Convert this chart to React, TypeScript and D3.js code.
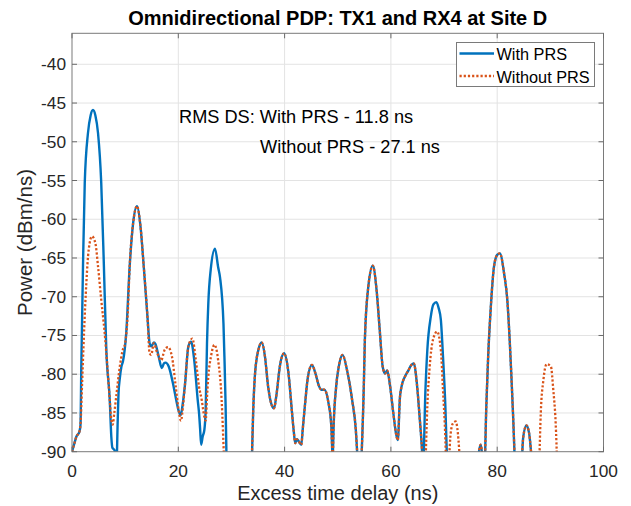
import React from "react";
import * as d3 from "d3";

type Pt = [number, number] | null;

// ---- Data (excess delay in ns, power in dBm/ns); null = below -90 dBm floor gap ----
const onsetShared: Pt[] = [[0, -90], [0.5, -88.8], [0.8, -88.1], [1.4, -87.4], [1.6, -86.5]];

const withPRSEarly: Pt[] = [
  [1.75, -79], [2.07, -66], [2.4, -55.3], [3.0, -48.9], [3.5, -46.6], [3.95, -45.9], [4.4, -46.6],
  [4.9, -48.9], [5.5, -55.3], [6.0, -66], [6.46, -76.9], [7.1, -83.3], [7.4, -88.1], [7.6, -89.5],
  [8.0, -89.8], [8.35, -92], [8.6, -86], [8.75, -82.5], [9.0, -80.5], [9.3, -79], [9.6, -78.3],
  [10.2, -74.7], [10.85, -66.1], [11.5, -60.5], [12.23, -58.3], [12.9, -61], [13.5, -66.1],
  [14.2, -72.6], [14.6, -76], [14.9, -76.4], [15.4, -75.9], [15.7, -76.1], [16.3, -77.7],
  [16.9, -79.2], [17.3, -78.6], [17.6, -78.5], [18.2, -79], [19.0, -81.2], [19.6, -83.3],
  [20.1, -84.8], [20.45, -85.3], [20.8, -84], [21.26, -81.3], [21.9, -76.4], [22.4, -75.8],
  [23.0, -78.2], [23.65, -83.3], [23.9, -85], [24.1, -87], [24.3, -89.1], [24.6, -88], [24.9, -87.2],
  [25.15, -84.6], [25.4, -76], [25.65, -70.8], [26.1, -66.5], [26.9, -63.8], [27.5, -66.2],
  [27.85, -67.5], [28.5, -73.5], [28.7, -78.3], [28.9, -84], [29.1, -92], null,
];

const withoutPRSEarly: Pt[] = [
  [1.9, -81.2], [2.26, -74.7], [2.7, -68.2], [3.13, -64], [3.76, -62.2], [4.4, -63.1], [4.9, -66.1],
  [5.5, -70.4], [6.15, -74.7], [6.65, -79], [7.1, -83.3], [7.4, -85.9], [7.65, -86.5], [7.96, -85],
  [8.3, -83], [9.0, -79], [9.5, -77], [10.0, -76], [10.5, -72], [10.85, -66.1], [11.5, -60.5],
  [12.23, -58.3], [12.9, -61], [13.5, -66.1], [14.2, -72.6], [14.6, -77.3], [14.9, -77.5],
  [15.4, -76], [16.05, -77.3], [16.8, -78.2], [17.4, -76.9], [18.06, -76.5], [18.8, -77.7],
  [19.45, -81.2], [20.1, -84.8], [20.5, -86], [20.9, -84], [21.26, -81.3], [21.9, -76.4],
  [22.65, -75.4], [23.3, -78.2], [23.9, -81.6], [24.4, -83.3], [24.9, -85.5], [25.15, -86],
  [25.4, -83], [25.65, -80.3], [26.15, -77.7], [26.8, -76.2], [27.5, -78.2], [28.15, -83.3],
  [28.65, -92], null,
];

const midShared: Pt[] = [
  [33.8, -92], [34.1, -84.6], [34.4, -80.3], [35.05, -76.9], [35.7, -75.9], [36.3, -77.7],
  [36.9, -81.6], [37.7, -84.2], [38.0, -84.4], [38.5, -82.5], [39.1, -79], [39.9, -77.3],
  [40.7, -79.7], [41.4, -85], [41.7, -87.2], [42.0, -88.9], [42.3, -88.4], [42.6, -88.6],
  [43.15, -89.1], [43.4, -87.2], [43.8, -84.2], [44.4, -80.3], [45.15, -78.8], [45.8, -79.9],
  [46.4, -81.4], [46.9, -82], [47.5, -82], [48.2, -83.5], [48.8, -86.8], [49.05, -91],
  [49.2, -87.2], [49.7, -81.6], [50.2, -79], [50.9, -77.5], [51.75, -79.5], [52.7, -83.3],
  [53.4, -87.2], [53.8, -92], null,
  [54.4, -92], [54.9, -81.6], [55.1, -75.6], [55.75, -68.7], [56.6, -66], [57.3, -69.1],
  [57.9, -74.3], [58.45, -79], [58.9, -79.9], [59.3, -79.5], [59.8, -81.3], [60.45, -85],
  [61.0, -87.8], [61.3, -88.5], [61.7, -83], [62.0, -81.6], [62.65, -80.3], [63.3, -79.5],
  [63.85, -78.8], [64.3, -78.6], [64.9, -81.3], [65.4, -85.5], [65.85, -89.8], [66.0, -92],
];

const withPRSPeak68: Pt[] = [
  [66.05, -92], [66.5, -82], [66.85, -76.9], [67.5, -72.6], [68.0, -71.0], [68.55, -70.7],
  [69.0, -71.5], [69.4, -73], [69.8, -77.7], [70.25, -84.2], [70.6, -92], null,
];

const withoutPRSPeak68: Pt[] = [
  null, [66.5, -92], [66.85, -84.2], [67.3, -79], [67.9, -75.6], [68.7, -74.5], [69.4, -76.9],
  [69.8, -82], [70.25, -88.5], [70.4, -92], null,
  [70.9, -92], [71.25, -87.6], [71.7, -86.3], [72.2, -86.1], [72.6, -87.6], [73.05, -92], null,
];

const lateShared: Pt[] = [
  [76.25, -92], [76.9, -89.1], [77.5, -92], [77.6, -92], [77.95, -84.2], [78.3, -77.7],
  [78.8, -71.3], [79.4, -66.1], [80.0, -64.6], [80.5, -64.4], [81.3, -67], [81.9, -70.4],
  [82.35, -75.6], [82.7, -80.7], [83.0, -85.5], [83.35, -92], null,
  [84.6, -92], [84.9, -88.1], [85.5, -86.6], [86.0, -87.6], [86.6, -92], null,
];

const withoutPRSTail: Pt[] = [
  [87.9, -92], [88.2, -85], [88.7, -80.7], [89.3, -78.7], [90.1, -79], [90.55, -82],
  [91.0, -86.3], [91.3, -92], null,
];

const withPRS: Pt[] = [...onsetShared, ...withPRSEarly, ...midShared, ...withPRSPeak68, ...lateShared];
const withoutPRS: Pt[] = [
  ...onsetShared, ...withoutPRSEarly, ...midShared, ...withoutPRSPeak68, ...lateShared, ...withoutPRSTail,
];

const xTicks = [0, 20, 40, 60, 80, 100];
const yTicks = [-90, -85, -80, -75, -70, -65, -60, -55, -50, -45, -40];
const legendLabels = ["With PRS", "Without PRS"];
const titleText = "Omnidirectional PDP: TX1 and RX4 at Site D";
const annotation1 = "RMS DS: With PRS - 11.8 ns";
const annotation2 = "Without PRS - 27.1 ns";

// ---- Layout ----
const W = 631;
const H = 506;
const L = 72;
const R = 603.5;
const T = 33.3;
const B = 451.7;
const FONT = "'Liberation Sans', Arial, Helvetica, sans-serif";
const BLUE = "#0072BD";
const ORANGE = "#D95319";
const AX = "#262626";

export default function App() {
  const x = d3.scaleLinear().domain([0, 100]).range([L, R]);
  const y = d3.scaleLinear().domain([-90, -36]).range([B, T]);
  const line = d3
    .line<Pt>()
    .defined((d) => d !== null)
    .x((d) => x((d as [number, number])[0]))
    .y((d) => y((d as [number, number])[1]))
    .curve(d3.curveMonotoneX);

  const tick = 5;
  return (
    <svg width={W} height={H} style={{ position: "absolute", left: 0, top: 0, background: "#fff" }}>
      <defs>
        <clipPath id="plotClip">
          <rect x={L} y={T} width={R - L} height={B - T} />
        </clipPath>
      </defs>
      <rect x={0} y={0} width={W} height={H} fill="#fff" />
      {/* grid */}
      <g stroke="#e3e3e3" strokeWidth={1}>
        {xTicks.slice(1, -1).map((t) => (
          <line key={"gx" + t} x1={x(t)} x2={x(t)} y1={T} y2={B} />
        ))}
        {yTicks.slice(1).map((t) => (
          <line key={"gy" + t} x1={L} x2={R} y1={y(t)} y2={y(t)} />
        ))}
      </g>
      {/* curves */}
      <g clipPath="url(#plotClip)" fill="none">
        <path d={line(withPRS) || ""} stroke={BLUE} strokeWidth={2.4} strokeLinejoin="round" />
        <path d={line(withoutPRS) || ""} stroke={ORANGE} strokeWidth={2.3} strokeDasharray="2.2 2" />
      </g>
      {/* axes box and ticks */}
      <rect x={L} y={T} width={R - L} height={B - T} fill="none" stroke="#7a7a7a" strokeWidth={1} />
      <g stroke="#6a6a6a" strokeWidth={1}>
        {xTicks.map((t) => (
          <g key={"tx" + t}>
            <line x1={x(t)} x2={x(t)} y1={B} y2={B - tick} />
            <line x1={x(t)} x2={x(t)} y1={T} y2={T + tick} />
          </g>
        ))}
        {yTicks.map((t) => (
          <g key={"ty" + t}>
            <line x1={L} x2={L + tick} y1={y(t)} y2={y(t)} />
            <line x1={R} x2={R - tick} y1={y(t)} y2={y(t)} />
          </g>
        ))}
      </g>
      {/* tick labels */}
      <g fontFamily={FONT} fontSize={17.3} fill={AX}>
        {xTicks.map((t) => (
          <text key={"lx" + t} x={x(t)} y={477} textAnchor="middle">
            {t}
          </text>
        ))}
        {yTicks.map((t) => (
          <text key={"ly" + t} x={66} y={y(t) + 6} textAnchor="end">
            {t}
          </text>
        ))}
      </g>
      {/* labels */}
      <text x={(L + R) / 2} y={500} textAnchor="middle" fontFamily={FONT} fontSize={20} fill={AX}>
        Excess time delay (ns)
      </text>
      <text
        transform={`translate(32,${(T + B) / 2}) rotate(-90)`}
        textAnchor="middle"
        fontFamily={FONT}
        fontSize={20.5}
        fill={AX}
      >
        Power (dBm/ns)
      </text>
      <text x={(L + R) / 2} y={25} textAnchor="middle" fontFamily={FONT} fontSize={20} fontWeight="bold" fill="#000">
        {titleText}
      </text>
      {/* annotations */}
      <text x={179} y={123} fontFamily={FONT} fontSize={18.2} fill="#000">
        {annotation1}
      </text>
      <text x={260} y={152.5} fontFamily={FONT} fontSize={18.2} fill="#000">
        {annotation2}
      </text>
      {/* legend */}
      <rect x={456.5} y={42.5} width={138} height={44} fill="#fff" stroke="#7a7a7a" strokeWidth={1} />
      <line x1={459.5} x2={494} y1={53.5} y2={53.5} stroke={BLUE} strokeWidth={2.4} />
      <line x1={459.5} x2={494} y1={76} y2={76} stroke={ORANGE} strokeWidth={2.3} strokeDasharray="2.2 2" />
      <g fontFamily={FONT} fontSize={16.3} fill="#000">
        <text x={496.5} y={60}>{legendLabels[0]}</text>
        <text x={496.5} y={82.5}>{legendLabels[1]}</text>
      </g>
    </svg>
  );
}
